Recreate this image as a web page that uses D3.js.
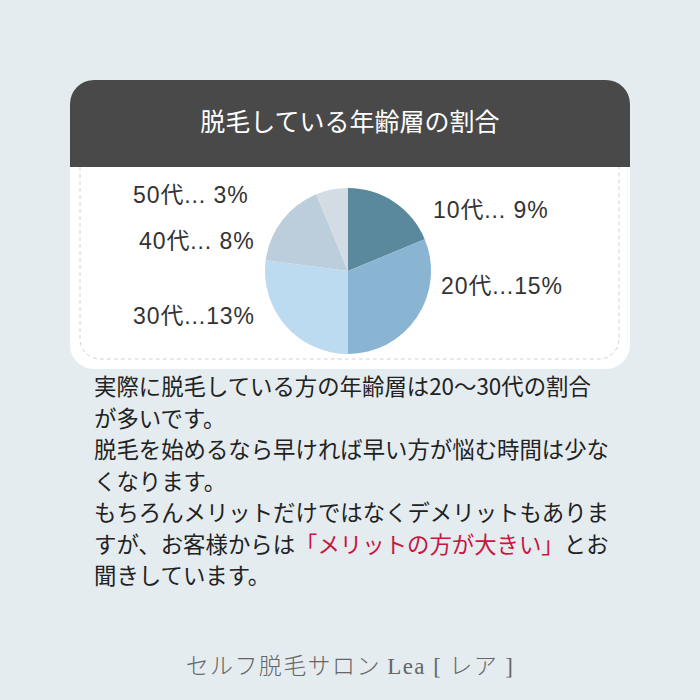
<!DOCTYPE html>
<html>
<head>
<meta charset="utf-8">
<script src="https://cdn.jsdelivr.net/npm/d3@7"></script>
<style>
  html, body { margin: 0; padding: 0; background: #e4ecf0; }
  #vis { width: 700px; height: 700px; }
</style>
</head>
<body>
<div id="vis"></div>
<script>
// chart data
let ages = ['10代', '20代', '30代', '40代', '50代']
let shares = [9, 15, 13, 8, 3]
let sliceColors = ['#5a899d', '#89b4d2', '#bddbf0', '#bccedc', '#d3dbe3']

let title = '脱毛している年齢層の割合'
let bodyLines = [
  [{ t: '実際に脱毛している方の年齢層は20〜30代の割合' }],
  [{ t: 'が多いです。' }],
  [{ t: '脱毛を始めるなら早ければ早い方が悩む時間は少な' }],
  [{ t: 'くなります。' }],
  [{ t: 'もちろんメリットだけではなくデメリットもありま' }],
  [{ t: 'すが、お客様からは' }, { t: '「メリットの方が大きい」', red: true }, { t: 'とお' }],
  [{ t: '聞きしています。' }]
]

// label anchors (left edge, baseline), one per slice
let labelPos = [[433, 218], [441, 294], [133, 324], [139, 249], [133, 203]]

let width = 700, height = 700

let svg = d3.select('#vis')
  .append('svg')
  .attr('width', width)
  .attr('height', height)
  .attr('viewBox', [0, 0, width, height].join(' '))

svg.append('rect')
  .attr('width', width)
  .attr('height', height)
  .attr('fill', '#e4ecf0')

// card
let card = { x: 70, y: 80, w: 560, h: 289, r: 24, head: 87 }

svg.append('rect')
  .attr('x', card.x)
  .attr('y', card.y)
  .attr('width', card.w)
  .attr('height', card.h)
  .attr('rx', card.r)
  .attr('fill', '#ffffff')

// header: rounded top, square bottom
let hp = d3.path()
hp.moveTo(card.x, card.y + card.head)
hp.lineTo(card.x, card.y + card.r)
hp.arcTo(card.x, card.y, card.x + card.r, card.y, card.r)
hp.lineTo(card.x + card.w - card.r, card.y)
hp.arcTo(card.x + card.w, card.y, card.x + card.w, card.y + card.r, card.r)
hp.lineTo(card.x + card.w, card.y + card.head)
hp.closePath()
svg.append('path')
  .attr('d', hp.toString())
  .attr('fill', '#494949')

// dashed inner border (open at top)
let dx0 = 80, dx1 = 619, dy0 = card.y + card.head, dy1 = 359, dr = 20
let dp = d3.path()
dp.moveTo(dx0, dy0)
dp.lineTo(dx0, dy1 - dr)
dp.arcTo(dx0, dy1, dx0 + dr, dy1, dr)
dp.lineTo(dx1 - dr, dy1)
dp.arcTo(dx1, dy1, dx1, dy1 - dr, dr)
dp.lineTo(dx1, dy0)
svg.append('path')
  .attr('d', dp.toString())
  .attr('fill', 'none')
  .attr('stroke', '#d2d2d2')
  .attr('stroke-width', 1)
  .attr('stroke-dasharray', '4,3')

svg.append('text')
  .attr('x', 350)
  .attr('y', 131)
  .attr('text-anchor', 'middle')
  .attr('fill', '#ffffff')
  .style('font-family', '"Noto Sans CJK JP", sans-serif')
  .style('font-size', '25px')
  .text(title)

// pie
let pie = d3.pie().sort(null).value(d => d)
let arc = d3.arc().innerRadius(0).outerRadius(83)

let g = svg.append('g')
  .attr('transform', 'translate(348,271)')

g.selectAll('path')
  .data(pie(shares))
  .join('path')
  .attr('d', arc)
  .attr('fill', (d, i) => sliceColors[i])

svg.selectAll('.lbl')
  .data(ages)
  .join('text')
  .attr('class', 'lbl')
  .attr('x', (d, i) => labelPos[i][0])
  .attr('y', (d, i) => labelPos[i][1])
  .attr('fill', '#333333')
  .style('font-family', '"Liberation Sans", "Noto Sans CJK JP", sans-serif')
  .style('font-size', '23px')
  .style('letter-spacing', '0.9px')
  .text((d, i) => d + '...' + (shares[i] < 10 ? ' ' : '') + shares[i] + '%')

// body text
let body = svg.append('text')
  .style('font-family', '"Noto Sans CJK JP", sans-serif')
  .style('font-size', '22.4px')

bodyLines.forEach((line, i) => {
  line.forEach((part, j) => {
    let ts = body.append('tspan')
      .attr('fill', part.red ? '#c8163f' : '#222222')
      .text(part.t)
    if (j === 0) ts.attr('x', 94).attr('y', 395 + i * 31.5)
  })
})

// footer
let foot = svg.append('text')
  .attr('x', 350)
  .attr('y', 674)
  .attr('text-anchor', 'middle')
  .attr('fill', '#666666')
  .style('font-size', '23px')
  .style('letter-spacing', '1.4px')
foot.append('tspan')
  .style('font-family', '"Noto Sans CJK JP", sans-serif')
  .style('font-weight', '300')
  .text('セルフ脱毛サロン ')
foot.append('tspan')
  .style('font-family', '"Liberation Serif", serif')
  .text('Lea [ ')
foot.append('tspan')
  .style('font-family', '"Noto Sans CJK JP", sans-serif')
  .style('font-weight', '300')
  .text('レア')
foot.append('tspan')
  .style('font-family', '"Liberation Serif", serif')
  .text(' ]')
</script>
</body>
</html>
